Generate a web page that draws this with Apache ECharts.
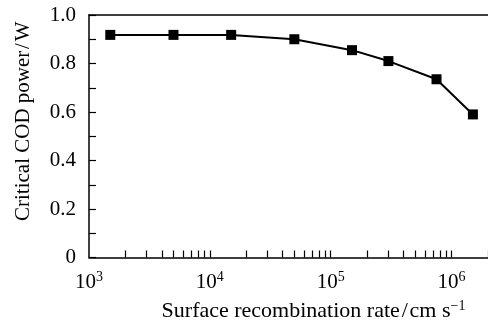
<!DOCTYPE html>
<html>
<head>
<meta charset="utf-8">
<script src="https://cdn.jsdelivr.net/npm/echarts@6/dist/echarts.min.js"></script>
<style>
  html, body { margin: 0; padding: 0; background: #fff; }
  #chart { width: 488px; height: 327px; }
</style>
</head>
<body>
<div id="chart"></div>
<script>
// Surface recombination rate (cm^-1 s^-1) and critical COD power (W)
const recombinationRate = [1.5e3, 5e3, 1.5e4, 5e4, 1.5e5, 3e5, 7.5e5, 1.5e6];
const codPower = [0.918, 0.918, 0.918, 0.900, 0.855, 0.810, 0.735, 0.590];

// Decade labels on the log axis and the 2..9 sub-decade ticks
const decadeTicks = [1e3, 1e4, 1e5, 1e6];
const minorTickValues = [];
[1e3, 1e4, 1e5, 1e6].forEach(function (d) {
  for (let k = 2; k <= 10; k++) {
    if (d * k <= 2e6) minorTickValues.push(d * k);
  }
});

const serif = '"Liberation Serif", "Times New Roman", serif';
const supStyle = { fontFamily: serif, fontSize: 14, verticalAlign: 'top', color: '#000', padding: [0, 0, 9, 0] };

const chart = echarts.init(document.getElementById('chart'), null, { renderer: 'canvas' });
chart.setOption({
  animation: false,
  backgroundColor: '#fff',
  grid: { left: 89, top: 15, right: -10, bottom: 68, containLabel: false },
  xAxis: [{
    type: 'log',
    logBase: 10,
    min: 1e3,
    max: 2e6,
    position: 'bottom',
    axisLine: { show: true, onZero: false, lineStyle: { color: '#000', width: 1.5 } },
    axisTick: { show: true, inside: true, length: 7, customValues: minorTickValues, lineStyle: { color: '#000', width: 1.2 } },
    minorTick: { show: false },
    splitLine: { show: false },
    axisLabel: {
      customValues: decadeTicks,
      margin: 13,
      color: '#000',
      fontFamily: serif,
      fontSize: 21,
      formatter: function (v) {
        const e = Math.round(Math.log10(v));
        return '10{s|' + e + '}';
      },
      rich: { s: supStyle }
    },
    name: 'Surface recombination rate\u200a/\u200acm s{s|−1}',
    nameLocation: 'middle',
    nameGap: 42,
    nameTextStyle: {
      color: '#000',
      fontFamily: serif,
      fontSize: 22,
      padding: [0, 0, 0, 50],
      rich: { s: supStyle }
    }
  }, {
    type: 'log',
    logBase: 10,
    min: 1e3,
    max: 2e6,
    position: 'top',
    axisLine: { show: true, onZero: false, lineStyle: { color: '#000', width: 1.5 } },
    axisTick: { show: false },
    axisLabel: { show: false },
    splitLine: { show: false }
  }],
  yAxis: {
    type: 'value',
    min: 0,
    max: 1,
    interval: 0.2,
    axisLine: { show: true, lineStyle: { color: '#000', width: 1.5 } },
    axisTick: { show: true, inside: true, length: 7, lineStyle: { color: '#000', width: 1.2 } },
    minorTick: { show: true, splitNumber: 2, length: 7, lineStyle: { color: '#000', width: 1.2 } },
    splitLine: { show: false },
    axisLabel: {
      margin: 13,
      color: '#000',
      fontFamily: serif,
      fontSize: 21,
      formatter: function (v) { return v === 0 ? '0' : v.toFixed(1); }
    },
    name: 'Critical COD power\u200a/\u200aW',
    nameLocation: 'middle',
    nameGap: 55,
    nameTextStyle: { color: '#000', fontFamily: serif, fontSize: 21, padding: [0, 0, 0, 30] }
  },
  series: [{
    type: 'line',
    xAxisIndex: 0,
    data: recombinationRate.map(function (x, i) { return [x, codPower[i]]; }),
    symbol: 'rect',
    symbolSize: 10,
    showSymbol: true,
    lineStyle: { color: '#000', width: 2 },
    itemStyle: { color: '#000' }
  }]
});
</script>
</body>
</html>
